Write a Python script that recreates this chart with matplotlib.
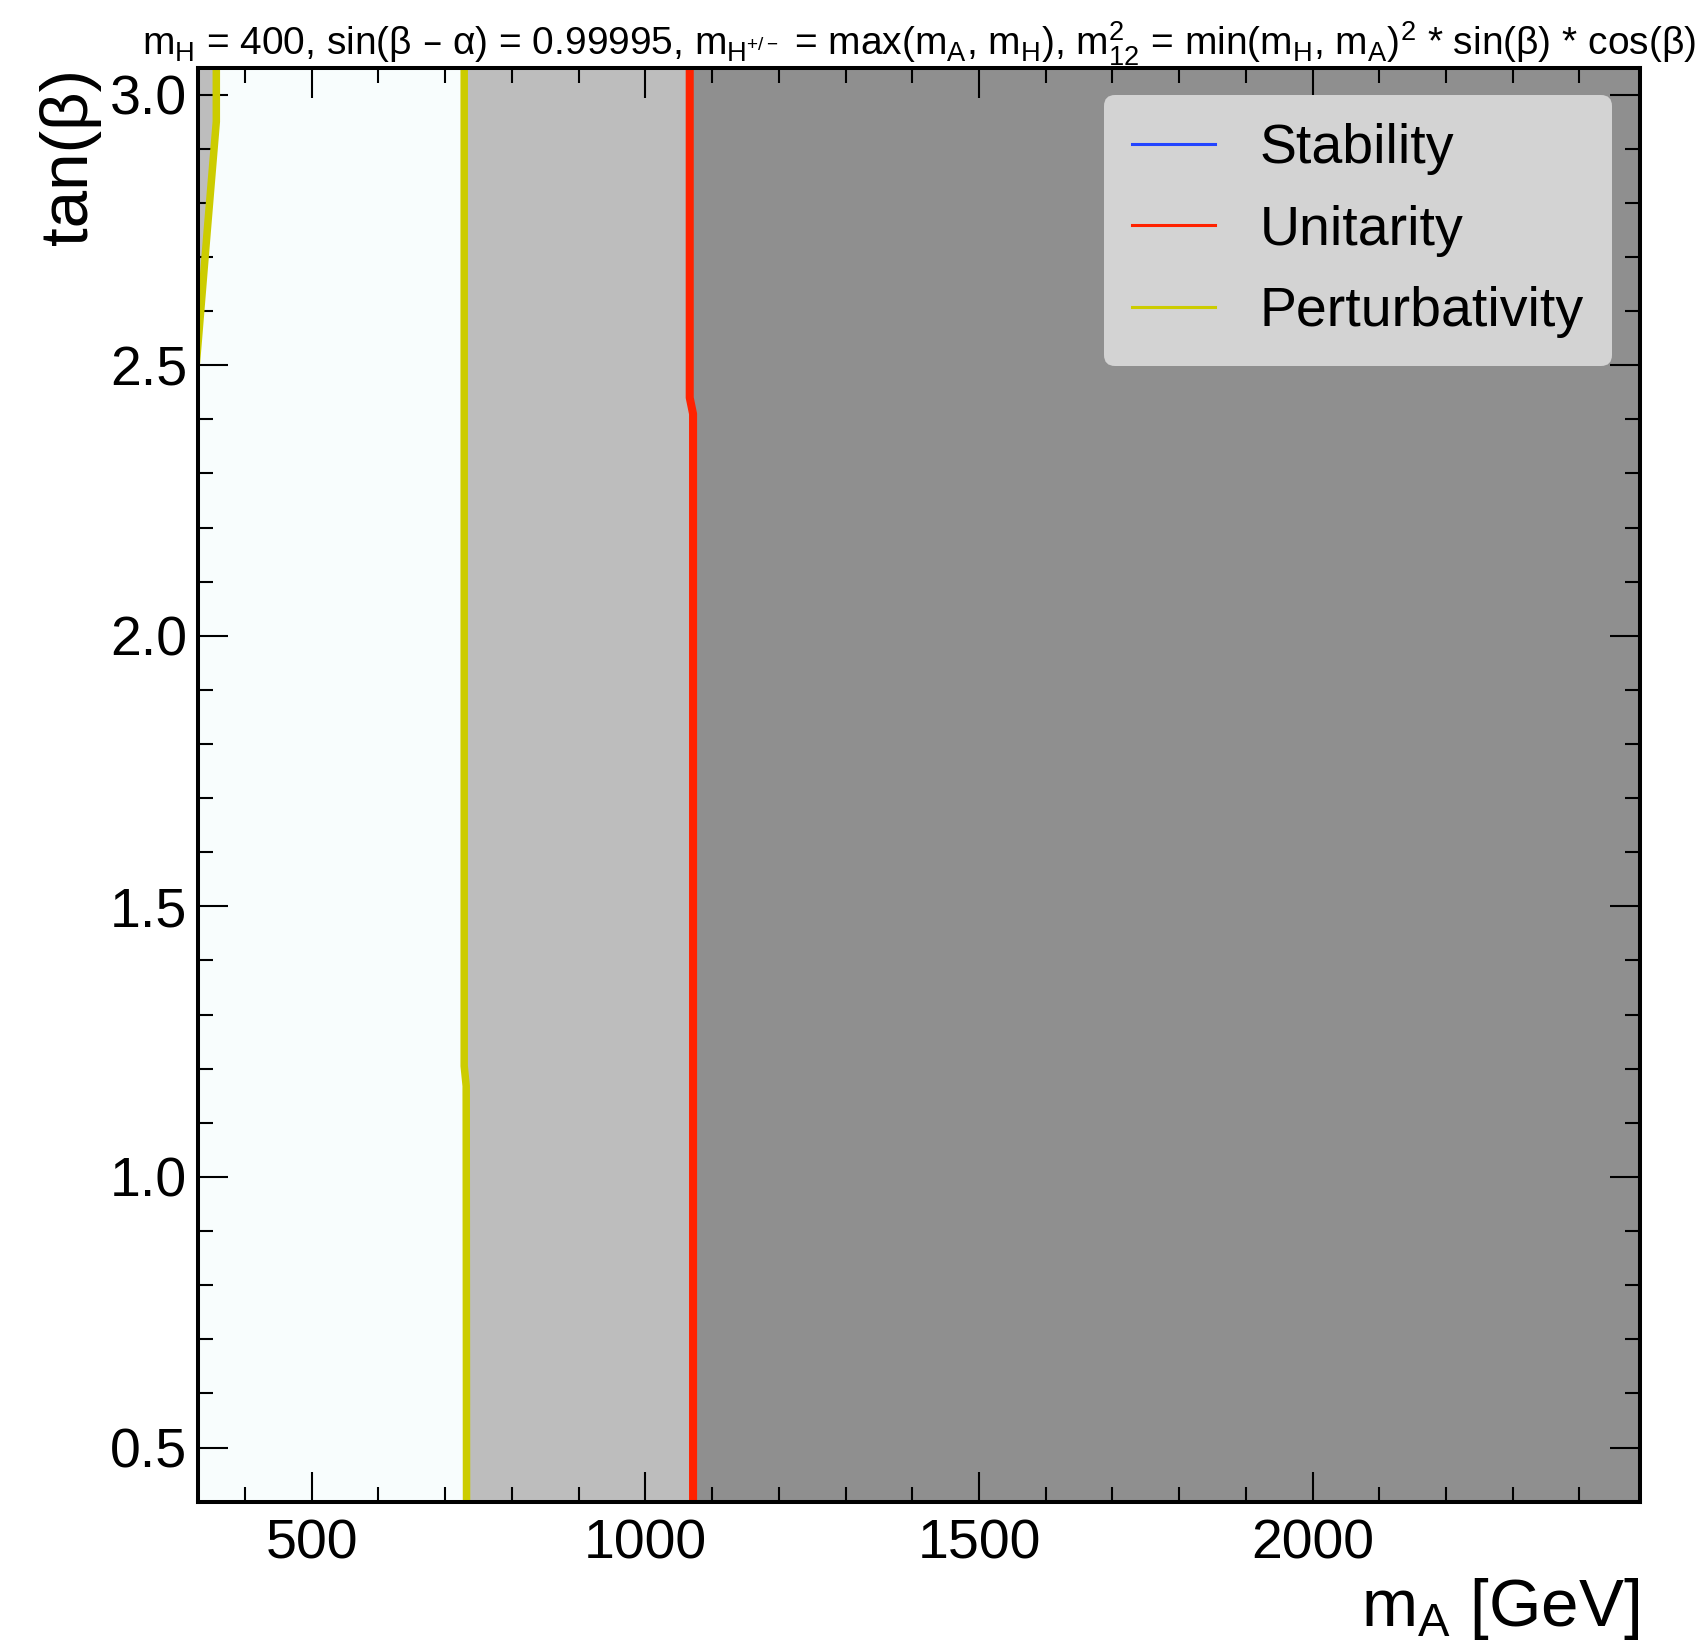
import numpy as np
import matplotlib.pyplot as plt
from matplotlib.lines import Line2D

plt.rcParams['font.family'] = ['Liberation Sans', 'DejaVu Sans']
plt.rcParams['mathtext.default'] = 'regular'

# boundaries (m_A in GeV vs tan(beta))
tb_pert_low = [3.05, 2.95, 2.75, 2.546, 2.40]
ma_pert_low = [357, 357, 343.5, 330, 320]

tb_pert_high = [3.05, 1.205, 1.168, 0.40]
ma_pert_high = [728.5, 728.5, 731.5, 732]

tb_unit = [3.05, 2.44, 2.41, 0.40]
ma_unit = [1066.5, 1066.5, 1071.5, 1071.5]

tb_stab = []
ma_stab = []

xmin, xmax = 330, 2490
ymin, ymax = 0.40, 3.05

c_allowed = '#F8FDFD'
c_one = '#BDBDBD'
c_two = '#8F8F8F'
c_stab = '#2244FF'
c_unit = '#FF2200'
c_pert = '#CCCC00'

fig = plt.figure(figsize=(17.07, 16.42), dpi=100)
ax = fig.add_axes([0.11617, 0.08544, 0.8443, 0.87345])
ax.set_facecolor(c_allowed)

# shaded excluded regions
ax.fill_betweenx(tb_pert_low, xmin - 50, ma_pert_low, color=c_one, lw=0, zorder=1)
ax.fill_betweenx(tb_pert_high, ma_pert_high, xmax + 50, color=c_one, lw=0, zorder=1)
ax.fill_betweenx(tb_unit, ma_unit, xmax + 50, color=c_two, lw=0, zorder=1.5)

ax.plot(ma_stab, tb_stab, color=c_stab, lw=5.4, zorder=3)
ax.plot(ma_unit, tb_unit, color=c_unit, lw=5.8, zorder=3)
ax.plot(ma_pert_high, tb_pert_high, color=c_pert, lw=5.4, zorder=3)
ax.plot(ma_pert_low, tb_pert_low, color=c_pert, lw=5.4, zorder=3)

ax.set_xlim(xmin, xmax)
ax.set_ylim(ymin, ymax)

ax.set_xticks([500, 1000, 1500, 2000])
ax.set_xticks(np.arange(400, 2500, 100), minor=True)
ax.set_yticks([0.5, 1.0, 1.5, 2.0, 2.5, 3.0])
ax.set_yticks(np.arange(0.4, 3.05, 0.1), minor=True)

ax.tick_params(which='both', direction='in', top=True, right=True, labelsize=40)
ax.tick_params(which='major', length=21.6, width=1.5)
ax.tick_params(which='minor', length=10.8, width=1.5)
ax.tick_params(axis='x', which='major', pad=12)
ax.tick_params(axis='y', which='major', pad=8)
for s in ax.spines.values():
    s.set_linewidth(2.9)
    s.set_zorder(5)

ax.set_xlabel(r'$m_{A}$ [GeV]', fontsize=48.5, loc='right', labelpad=4)
ax.set_ylabel('tan(β)', fontsize=48.5, loc='top', labelpad=6)

ax.set_title(r'$m_{H}$ = 400, sin(β – α) = 0.99995, $m_{H^{+/-}}$ = max($m_{A}$, $m_{H}$), '
             r'$m_{12}^{2}$ = min($m_{H}$, $m_{A})^{2}$ * sin(β) * cos(β)', fontsize=28, pad=6)

handles = [Line2D([], [], color=c_stab, lw=2.2),
           Line2D([], [], color=c_unit, lw=2.2),
           Line2D([], [], color=c_pert, lw=2.2)]
leg = ax.legend(handles, ['Stability', 'Unitarity', 'Perturbativity'], loc='upper right',
                fontsize=40, frameon=True, fancybox=True, facecolor='#D3D3D3',
                edgecolor='none', framealpha=1, handlelength=1.5, handletextpad=0.8,
                borderpad=0.5, labelspacing=0.53)
leg.set_zorder(6)

fig.savefig('out.png', dpi=100)
